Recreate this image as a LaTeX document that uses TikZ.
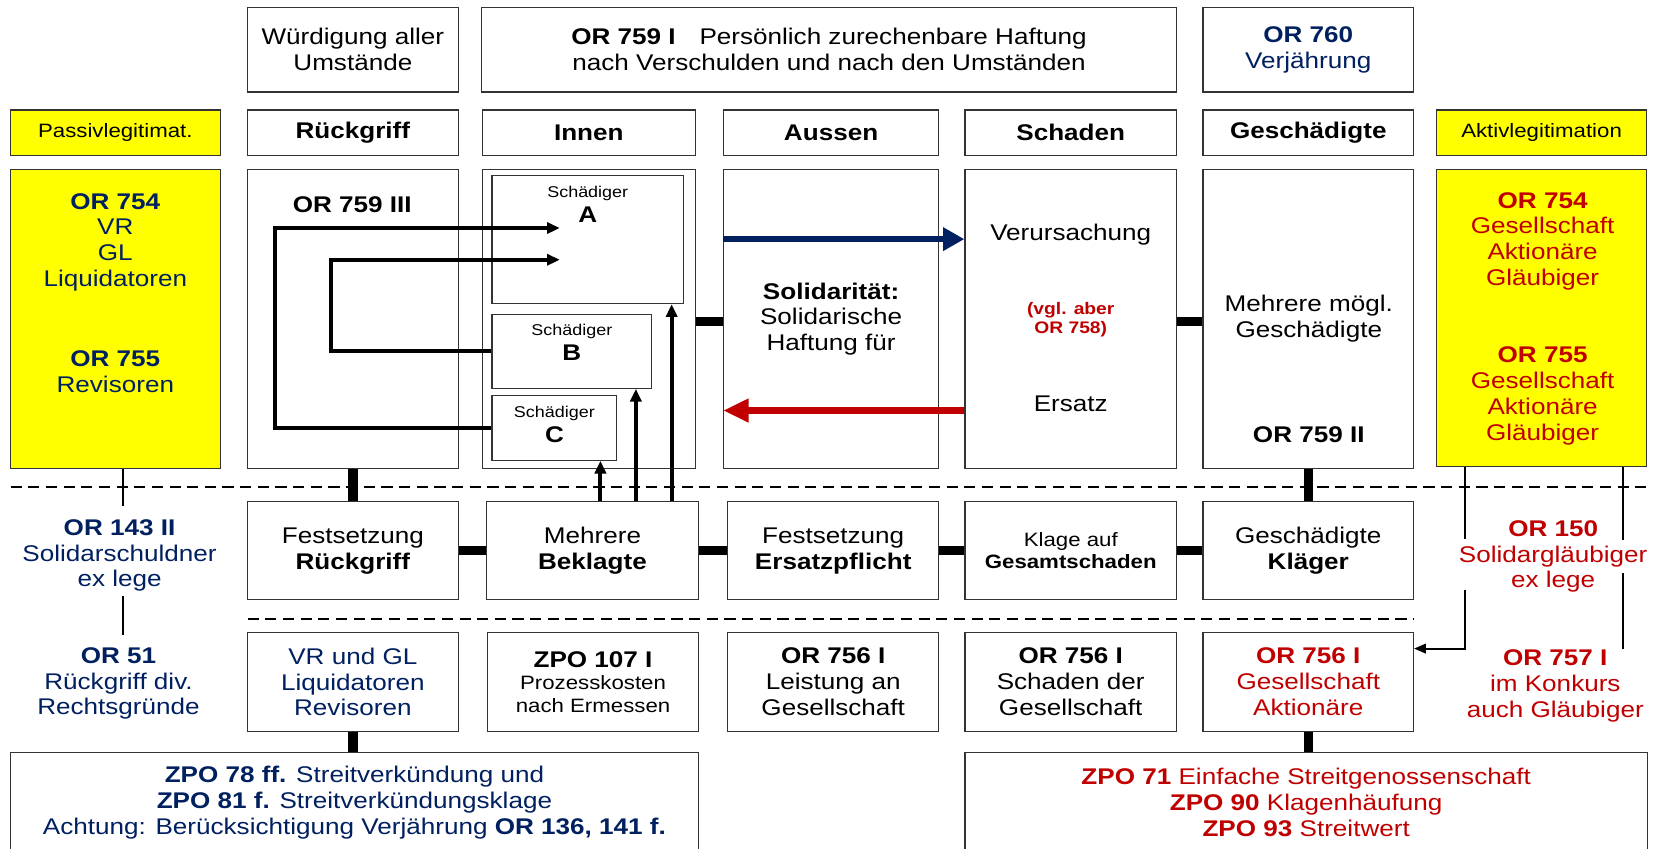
\documentclass[tikz,border=0pt]{standalone}
\usepackage{fontspec}
\setmainfont[FakeStretch=1.15]{Liberation Sans}
\usetikzlibrary{arrows.meta,calc,fit}

\definecolor{navy}{RGB}{0,32,96}
\definecolor{dred}{RGB}{192,0,0}
\definecolor{gelb}{RGB}{255,255,0}

\newcommand{\fsnorm}{\fontsize{12.2}{13.9}\selectfont}
\newcommand{\fssmall}{\fontsize{10.4}{12}\selectfont}
\newcommand{\fstiny}{\fontsize{8.4}{9.8}\selectfont}
\newcommand{\fsvgl}{\fontsize{9}{10}\selectfont}

\begin{document}
\begin{tikzpicture}[x=0.02cm, y=-0.02cm, font=\fsnorm,
  box/.style={draw=black!80, line width=0.6pt, fill=white, inner sep=0pt},
  gelbbox/.style={box, fill=gelb},
  txt/.style={inner sep=0pt, align=center},
  bar/.style={line width=5pt},
  dashline/.style={line width=1.1pt, dash pattern=on 6pt off 3.5pt},
  link/.style={line width=1pt},
  pfeil/.style={line width=2.2pt, -{Triangle[length=0.24cm, width=0.21cm]}},
  blaupfeil/.style={navy, line width=3.6pt, -{Triangle[length=0.4cm, width=0.42cm]}},
  rotpfeil/.style={dred, line width=3.6pt, -{Triangle[length=0.48cm, width=0.42cm]}}]

  \useasboundingbox (0,0) rectangle (1568,802);
  \fill[white] (0,0) rectangle (1568,802);

  % dashed separators
  \coordinate (d1l) at (10,460);
  \coordinate (d1r) at (1560,460);
  \coordinate (d2l) at (234,585);
  \coordinate (d2r) at (1336,585);
  \draw[dashline] (d1l) -- (d1r);
  \draw[dashline] (d2l) -- (d2r);

  % top row
  \node[box, fit={(234,7) (433,87)}] (wuerd) {};
  \node[txt] (wuerdT) at (wuerd) {Würdigung aller\\Umstände};
  \node[box, fit={(455,7) (1112,87)}] (haft) {};
  \node[txt] (haftT) at (haft) {\textbf{OR 759 I}\hspace{0.45cm}Persönlich zurechenbare Haftung\\nach Verschulden und nach den Umständen};
  \node[box, fit={(1137,7) (1336,87)}] (verj) {};
  \node[txt, text=navy] (verjT) at (verj) {\textbf{OR 760}\\Verjährung};

  % header row
  \node[gelbbox, fit={(10,104) (208,147)}] (hPassiv) {};
  \node[txt, font=\fssmall] (hPassivT) at (hPassiv) {Passivlegitimat.};
  \node[box, fit={(234,104) (433,147)}] (hRueck) {};
  \node[txt] (hRueckT) at (hRueck) {\textbf{Rückgriff}};
  \node[box, fit={(456,104) (657,147)}] (hInnen) {};
  \node[txt] (hInnenT) at (hInnen) {\textbf{Innen}};
  \node[box, fit={(684,104) (887,147)}] (hAussen) {};
  \node[txt] (hAussenT) at (hAussen) {\textbf{Aussen}};
  \node[box, fit={(912,104) (1112,147)}] (hSchaden) {};
  \node[txt] (hSchadenT) at (hSchaden) {\textbf{Schaden}};
  \node[box, fit={(1137,104) (1336,147)}] (hGesch) {};
  \node[txt] (hGeschT) at (hGesch) {\textbf{Geschädigte}};
  \node[gelbbox, fit={(1358,104) (1556,147)}] (hAktiv) {};
  \node[txt, font=\fssmall] (hAktivT) at (hAktiv) {Aktivlegitimation};

  % main row
  \node[gelbbox, fit={(10,160) (208,443)}] (passiv) {};
  \node[txt, text=navy] (pOR754) at (109,229) {\textbf{OR 754}\\VR\\GL\\Liquidatoren};
  \node[txt, text=navy] (pOR755) at (109,351) {\textbf{OR 755}\\Revisoren};

  \node[box, fit={(234,160) (433,443)}] (rueck) {};
  \node[txt] (or759iii) at (333,193) {\textbf{OR 759 III}};

  \node[box, fit={(456,160) (657,443)}] (innen) {};
  \node[box, fit={(465,166) (646,287)}] (schA) {};
  \node[box, fit={(465,297) (616,367)}] (schB) {};
  \node[box, fit={(465,374) (583,435)}] (schC) {};
  \node[txt, font=\fstiny] (lblA) at ($(schA.north)+(0,17)$) {Schädiger};
  \node[txt] (nameA) at ($(schA.north)+(0,37)$) {\textbf{A}};
  \node[txt, font=\fstiny] (lblB) at ($(schB.north)+(0,17)$) {Schädiger};
  \node[txt] (nameB) at ($(schB.north)+(0,37)$) {\textbf{B}};
  \node[txt, font=\fstiny] (lblC) at ($(schC.north)+(0,17)$) {Schädiger};
  \node[txt] (nameC) at ($(schC.north)+(0,37)$) {\textbf{C}};

  \node[box, fit={(684,160) (887,443)}] (aussen) {};
  \node[txt] (solid) at (aussen) {\textbf{Solidarität:}\\Solidarische\\Haftung für};

  \node[box, fit={(912,160) (1112,443)}] (schaden) {};
  \node[txt] (verurs) at (1012,222) {Verursachung};
  \node[txt, text=dred, font=\fsvgl\bfseries] (vgl) at (1012,302) {(vgl. aber\\OR 758)};
  \node[txt] (ersatz) at (1012,382) {Ersatz};

  \node[box, fit={(1137,160) (1336,443)}] (gesch) {};
  \node[txt] (mehrere) at (1237,301) {Mehrere mögl.\\Geschädigte};
  \node[txt] (or759ii) at (1237,411) {\textbf{OR 759 II}};

  \node[gelbbox, fit={(1358,160) (1556,441)}] (aktiv) {};
  \node[txt, text=dred] (aOR754) at (1458,228) {\textbf{OR 754}\\Gesellschaft\\Aktionäre\\Gläubiger};
  \node[txt, text=dred] (aOR755) at (1458,374) {\textbf{OR 755}\\Gesellschaft\\Aktionäre\\Gläubiger};

  % middle row
  \node[box, fit={(234,474) (433,567)}] (festR) {};
  \node[txt] (festRT) at (festR) {Festsetzung\\\textbf{Rückgriff}};
  \node[box, fit={(460,474) (660,567)}] (bekl) {};
  \node[txt] (beklT) at (bekl) {Mehrere\\\textbf{Beklagte}};
  \node[box, fit={(688,474) (887,567)}] (festE) {};
  \node[txt] (festET) at (festE) {Festsetzung\\\textbf{Ersatzpflicht}};
  \node[box, fit={(912,474) (1112,567)}] (klage) {};
  \node[txt, font=\fssmall] (klageT) at (klage) {Klage auf\\\textbf{Gesamtschaden}};
  \node[box, fit={(1137,474) (1336,567)}] (klaeger) {};
  \node[txt] (klaegerT) at (klaeger) {Geschädigte\\\textbf{Kläger}};

  \node[txt, text=navy] (or143) at (113,525) {\textbf{OR 143 II}\\Solidarschuldner\\ex lege};
  \node[txt, text=navy] (or51) at (112,646) {\textbf{OR 51}\\Rückgriff div.\\Rechtsgründe};
  \node[txt, text=dred] (or150) at (1468,526) {\textbf{OR 150}\\Solidargläubiger\\ex lege};
  \node[txt, text=dred] (or757) at (1470,648) {\textbf{OR 757 I}\\im Konkurs\\auch Gläubiger};

  % bottom rows
  \node[box, fit={(234,598) (433,691)}] (vrgl) {};
  \node[txt, text=navy] (vrglT) at (vrgl) {VR und GL\\Liquidatoren\\Revisoren};
  \node[box, fit={(461,598) (660,691)}] (zpo107) {};
  \node[txt, font=\fssmall] (zpo107T) at (zpo107) {{\fsnorm\bfseries ZPO 107 I}\\Prozesskosten\\nach Ermessen};
  \node[box, fit={(688,598) (887,691)}] (leist) {};
  \node[txt] (leistT) at (leist) {\textbf{OR 756 I}\\Leistung an\\Gesellschaft};
  \node[box, fit={(912,598) (1112,691)}] (schges) {};
  \node[txt] (schgesT) at (schges) {\textbf{OR 756 I}\\Schaden der\\Gesellschaft};
  \node[box, fit={(1137,598) (1336,691)}] (or756) {};
  \node[txt, text=dred] (or756T) at (or756) {\textbf{OR 756 I}\\Gesellschaft\\Aktionäre};

  \node[box, fit={(10,711) (660,806)}] (streit) {};
  \node[txt, text=navy] (streitT) at (streit) {\textbf{ZPO 78 ff.} Streitverkündung und\\\textbf{ZPO 81 f.} Streitverkündungsklage\\Achtung: Berücksichtigung Verjährung \textbf{OR 136, 141 f.}};
  \node[box, fit={(912,711) (1557,806)}] (zpo) {};
  \node[txt, text=dred] (zpoT) at (zpo) {\textbf{ZPO 71} Einfache Streitgenossenschaft\\\textbf{ZPO 90} Klagenhäufung\\\textbf{ZPO 93} Streitwert};

  % thick links
  \coordinate (ybar) at (0,304);
  \draw[bar] (innen.east |- ybar) -- (aussen.west |- ybar);
  \draw[bar] (schaden.east |- ybar) -- (gesch.west |- ybar);
  \draw[bar] (festR) -- (bekl);
  \draw[bar] (bekl) -- (festE);
  \draw[bar] (festE) -- (klage);
  \draw[bar] (klage) -- (klaeger);
  \draw[bar] (rueck.south) -- (festR.north);
  \draw[bar] (gesch.south) -- (klaeger.north);
  \draw[bar] (vrgl.south) -- (streit.north -| vrgl.south);
  \draw[bar] (or756.south) -- (zpo.north -| or756.south);

  % Rueckgriff loops into A
  \coordinate (tipA1) at (529,215.5);
  \coordinate (tipA2) at (529,245.5);
  \coordinate (loopO) at (260,0);
  \coordinate (loopI) at (313,0);
  \draw[pfeil] (schC.west) -| (loopO |- tipA1) -- (tipA1);
  \draw[pfeil] (schB.west) -| (loopI |- tipA2) -- (tipA2);

  % Beklagte up to A, B, C
  \coordinate (xC) at (567.5,0);
  \coordinate (xB) at (601,0);
  \coordinate (xA) at (634.8,0);
  \draw[pfeil] (bekl.north -| xC) -- (schC.south -| xC);
  \draw[pfeil] (bekl.north -| xB) -- (schB.south -| xB);
  \draw[pfeil] (bekl.north -| xA) -- (schA.south -| xA);

  % Verursachung / Ersatz
  \coordinate (yV) at (0,226);
  \coordinate (yE) at (0,388);
  \draw[blaupfeil] (aussen.west |- yV) -- (schaden.west |- yV);
  \draw[rotpfeil] (schaden.west |- yE) -- (aussen.west |- yE);

  % thin lines left
  \coordinate (p1) at (116,478);
  \coordinate (p2) at (116,563);
  \coordinate (p3) at (116,600);
  \draw[link] (passiv.south -| p1) -- (p1);
  \draw[link] (p2) -- (p3);

  % thin lines right
  \coordinate (q1) at (1385,509);
  \coordinate (q2) at (1385,558);
  \coordinate (q3) at (1385,613);
  \coordinate (s1) at (1534,510);
  \coordinate (s2) at (1534,542);
  \coordinate (s3) at (1534,613);
  \draw[link] (aktiv.south -| q1) -- (q1);
  \draw[link, -{Triangle[length=0.22cm, width=0.18cm]}] (q2) -- (q3) -- (or756.east |- q3);
  \draw[link] (aktiv.south -| s1) -- (s1);
  \draw[link] (s2) -- (s3);
\end{tikzpicture}
\end{document}
